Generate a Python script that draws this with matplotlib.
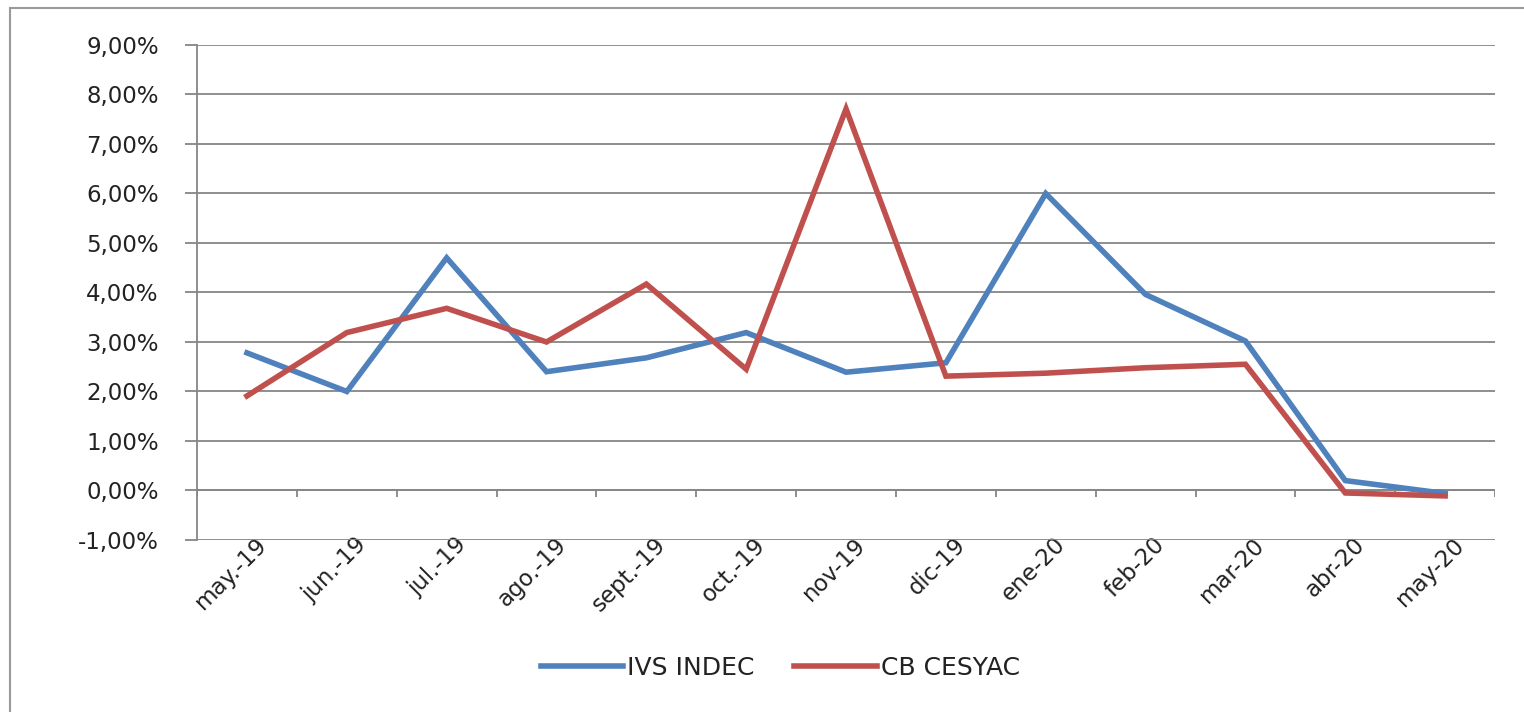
import numpy as np
import matplotlib
matplotlib.use("Agg")
import matplotlib.pyplot as plt
from matplotlib.patches import Rectangle
from matplotlib.ticker import FuncFormatter

# datos (variación mensual, en %)
meses = ["may.-19", "jun.-19", "jul.-19", "ago.-19", "sept.-19", "oct.-19", "nov-19",
         "dic-19", "ene-20", "feb-20", "mar-20", "abr-20", "may-20"]
ivs_indec = [2.78, 2.00, 4.70, 2.40, 2.68, 3.19, 2.39, 2.58, 6.00, 3.96, 3.02, 0.20, -0.06]
cb_cesyac = [1.91, 3.19, 3.68, 3.00, 4.17, 2.45, 7.71, 2.31, 2.37, 2.48, 2.55, -0.05, -0.11]

azul = "#4F81BD"
rojo = "#C0504D"
gris = "#868686"

fig = plt.figure(figsize=(15.24, 7.12), dpi=100)
ax = fig.add_axes([0.1293, 0.2416, 0.8517, 0.6952])

x = np.arange(len(meses))
ax.plot(x, ivs_indec, color=azul, lw=4, label="IVS INDEC", solid_joinstyle="miter", zorder=3)
ax.plot(x, cb_cesyac, color=rojo, lw=4, label="CB CESYAC", solid_joinstyle="miter", zorder=3)

ax.set_xlim(-0.5, len(meses) - 0.5)
ax.set_ylim(-1, 9)
ax.set_yticks(np.arange(-1, 10, 1))
ax.yaxis.set_major_formatter(FuncFormatter(lambda v, p: f"{v:.2f}%".replace(".", ",")))
ax.yaxis.grid(True, color=gris, lw=1.3)
ax.set_axisbelow(True)

for s in ["top", "right", "bottom"]:
    ax.spines[s].set_visible(False)
ax.spines["left"].set_color(gris)
ax.spines["left"].set_linewidth(1.3)

ax.tick_params(axis="y", length=8.6, color=gris, width=1.3, labelsize=16.5, pad=19, labelcolor="#222222")
ax.tick_params(axis="x", length=0, labelsize=16.5, pad=-5, labelcolor="#222222")
ax.set_xticks(x + 0.08)
ax.set_xticklabels(meses, rotation=45, ha="right", rotation_mode="anchor")

# eje horizontal en 0 con marcas entre categorías
ax.axhline(0, color=gris, lw=1.3, zorder=2)
ax.vlines(np.arange(len(meses) + 1) - 0.5, -0.13, 0, color=gris, lw=1.3, zorder=2)

fig.legend(loc="center", bbox_to_anchor=(0.512, 0.062), ncol=2, frameon=False,
           fontsize=18, handlelength=3.3, columnspacing=1.6, handletextpad=0.15,
           labelcolor="#222222")

# marco del gráfico
fig.patches.append(Rectangle((10 / 1524, -0.05), 1.0, 1.05 - 8 / 712, transform=fig.transFigure,
                             fill=False, edgecolor="#9a9a9a", lw=1.5))

fig.savefig("out.png", dpi=100)
